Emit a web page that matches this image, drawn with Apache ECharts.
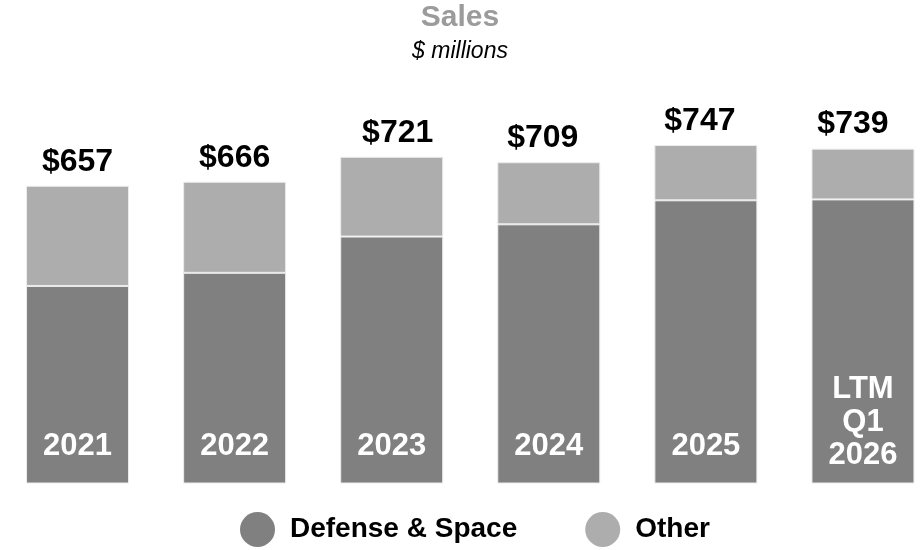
<!DOCTYPE html>
<html>
<head>
<meta charset="utf-8">
<script src="https://cdn.jsdelivr.net/npm/echarts@6/dist/echarts.min.js"></script>
<style>
  html, body { margin: 0; padding: 0; background: #ffffff; }
  #chart { width: 920px; height: 550px; }
</style>
</head>
<body>
<div id="chart"></div>
<script>
// Sales by year, $ millions
const categories = ['2021', '2022', '2023', '2024', '2025', 'LTM\nQ1\n2026'];
const totals = [657, 666, 721, 709, 747, 739];
const defenseSpace = [436, 465, 545, 572, 625, 627];
const seriesNames = ['Defense & Space', 'Other'];

// Remaining segment stacks on top so each bar ends at its labelled total
const other = totals.map((t, i) => t - defenseSpace[i]);

const FONT = '"Liberation Sans", Arial, sans-serif';
const DARK = '#808080';
const LIGHT = '#adadad';
// small horizontal nudges of the total labels (px)
const totalLabelNudge = [0, 0, 6, -6, -6, -10];

const chart = echarts.init(document.getElementById('chart'), null, { renderer: 'canvas' });

const defenseData = defenseSpace.map((v, i) => {
  const item = { value: v };
  if (categories[i].indexOf('\n') >= 0) {
    item.label = { distance: 12 };
  }
  return item;
});

const otherData = other.map((v, i) => ({
  value: v,
  label: { offset: [totalLabelNudge[i], 0] }
}));

chart.setOption({
  animation: false,
  backgroundColor: '#ffffff',
  title: {
    text: 'Sales',
    subtext: '$ millions',
    left: 'center',
    top: -2,
    itemGap: 7,
    textStyle: {
      fontFamily: FONT, fontSize: 30, fontWeight: 'bold', color: '#9b9b9b', lineHeight: 30
    },
    subtextStyle: {
      fontFamily: FONT, fontSize: 23, fontStyle: 'italic', color: '#000000', lineHeight: 24
    }
  },
  legend: {
    data: seriesNames,
    left: 240,
    top: 512,
    padding: 0,
    icon: 'circle',
    itemWidth: 35,
    itemHeight: 35,
    itemGap: 68,
    itemStyle: { borderWidth: 0 },
    textStyle: {
      fontFamily: FONT, fontSize: 28, fontWeight: 'bold', color: '#000000',
      padding: [0, 0, 0, 10]
    }
  },
  grid: { left: -1, right: -21.5, top: 121, bottom: 66.5, outerBoundsMode: 'none' },
  xAxis: {
    type: 'category',
    data: categories,
    show: false
  },
  yAxis: {
    type: 'value',
    min: 0,
    max: 800,
    show: false
  },
  series: [
    {
      name: seriesNames[0],
      type: 'bar',
      stack: 'sales',
      barWidth: 103,
      data: defenseData,
      itemStyle: { color: DARK, borderColor: '#ececec', borderWidth: 1 },
      label: {
        show: true,
        position: 'insideBottom',
        distance: 21,
        formatter: p => categories[p.dataIndex],
        fontFamily: FONT,
        fontSize: 31,
        fontWeight: 'bold',
        color: '#ffffff',
        lineHeight: 33
      }
    },
    {
      name: seriesNames[1],
      type: 'bar',
      stack: 'sales',
      barWidth: 103,
      data: otherData,
      itemStyle: { color: LIGHT, borderColor: '#ececec', borderWidth: 1 },
      label: {
        show: true,
        position: 'top',
        distance: 8,
        formatter: p => '$' + totals[p.dataIndex],
        fontFamily: FONT,
        fontSize: 32,
        fontWeight: 'bold',
        color: '#000000'
      }
    }
  ]
});
</script>
</body>
</html>
